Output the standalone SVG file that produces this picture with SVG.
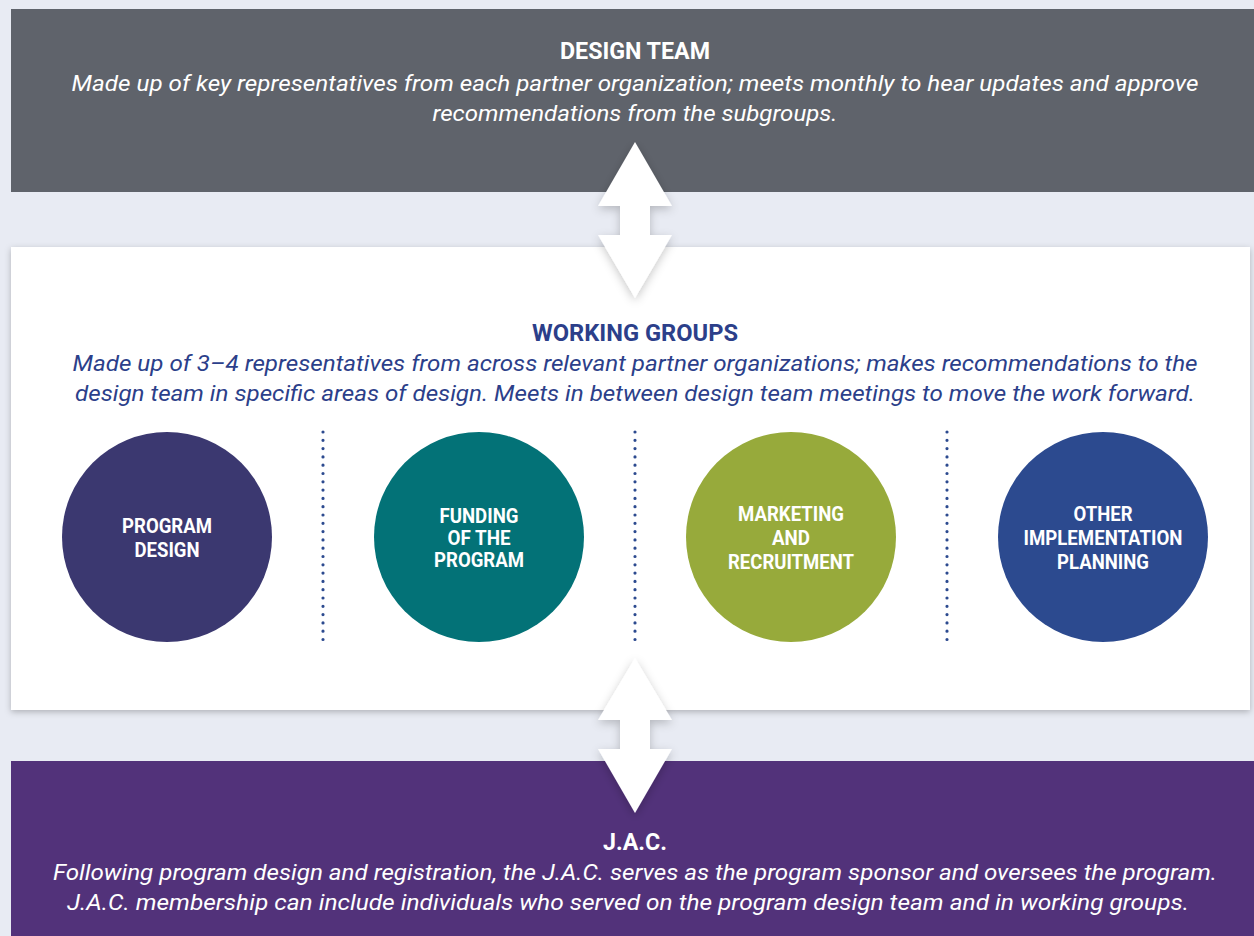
<svg xmlns="http://www.w3.org/2000/svg" width="1254" height="936" viewBox="0 0 1254 936">
<defs>
<filter id="sh" x="-10%" y="-10%" width="120%" height="130%">
<feDropShadow dx="0" dy="2" stdDeviation="3" flood-color="#000" flood-opacity="0.25"/>
</filter>
<filter id="ash" x="-40%" y="-20%" width="180%" height="140%">
<feDropShadow dx="0" dy="3" stdDeviation="5" flood-color="#000" flood-opacity="0.22"/>
</filter>
<style>
.ttl{font-family:Roboto,"Liberation Sans",sans-serif;font-weight:bold;font-size:24px;text-anchor:middle}
.body{font-family:Roboto,"Liberation Sans",sans-serif;font-style:italic;font-size:22px;text-anchor:middle}
.ctext{font-family:Roboto,"Liberation Sans",sans-serif;font-weight:bold;font-size:20px;fill:#fff;text-anchor:middle}
.dots{stroke:#2c4a8f;stroke-width:3.2;stroke-linecap:round;stroke-dasharray:0 8.3;fill:none}
.arrow{fill:#fff;filter:url(#ash)}
</style>
</defs>
<rect x="0" y="0" width="1254" height="936" fill="#e8ebf3"/>
<g id="design-team">
<rect x="11" y="9" width="1243" height="183" fill="#5f636b"/>
<text class="ttl" x="635" y="59" fill="#fff" textLength="150" lengthAdjust="spacingAndGlyphs">DESIGN TEAM</text>
<text class="body" x="635" y="91" fill="#fff" textLength="1127" lengthAdjust="spacingAndGlyphs">Made up of key representatives from each partner organization; meets monthly to hear updates and approve</text>
<text class="body" x="635" y="121" fill="#fff" textLength="405" lengthAdjust="spacingAndGlyphs">recommendations from the subgroups.</text>
</g>
<g id="working-groups">
<rect x="11" y="247" width="1239" height="463" fill="#fff" filter="url(#sh)"/>
<text class="ttl" x="635" y="341" fill="#2c3f8a" textLength="206" lengthAdjust="spacingAndGlyphs">WORKING GROUPS</text>
<text class="body" x="635" y="371" fill="#2c3f8a" textLength="1125" lengthAdjust="spacingAndGlyphs">Made up of 3–4 representatives from across relevant partner organizations; makes recommendations to the</text>
<text class="body" x="635" y="401" fill="#2c3f8a" textLength="1120" lengthAdjust="spacingAndGlyphs">design team in specific areas of design. Meets in between design team meetings to move the work forward.</text>
</g>
<g id="program-design">
<circle cx="167" cy="537" r="105" fill="#3b3870"/>
<text class="ctext" x="167" y="533" textLength="90" lengthAdjust="spacingAndGlyphs">PROGRAM</text>
<text class="ctext" x="167" y="557" textLength="65" lengthAdjust="spacingAndGlyphs">DESIGN</text>
</g>
<g id="funding">
<circle cx="479" cy="537" r="105" fill="#037277"/>
<text class="ctext" x="479" y="523" textLength="79" lengthAdjust="spacingAndGlyphs">FUNDING</text>
<text class="ctext" x="479" y="545" textLength="63" lengthAdjust="spacingAndGlyphs">OF THE</text>
<text class="ctext" x="479" y="567" textLength="90" lengthAdjust="spacingAndGlyphs">PROGRAM</text>
</g>
<g id="marketing">
<circle cx="791" cy="537" r="105" fill="#97aa3b"/>
<text class="ctext" x="791" y="521" textLength="106" lengthAdjust="spacingAndGlyphs">MARKETING</text>
<text class="ctext" x="791" y="545" textLength="38" lengthAdjust="spacingAndGlyphs">AND</text>
<text class="ctext" x="791" y="569" textLength="126" lengthAdjust="spacingAndGlyphs">RECRUITMENT</text>
</g>
<g id="other">
<circle cx="1103" cy="537" r="105" fill="#2c4a8f"/>
<text class="ctext" x="1103" y="521" textLength="59" lengthAdjust="spacingAndGlyphs">OTHER</text>
<text class="ctext" x="1103" y="545" textLength="159" lengthAdjust="spacingAndGlyphs">IMPLEMENTATION</text>
<text class="ctext" x="1103" y="569" textLength="92" lengthAdjust="spacingAndGlyphs">PLANNING</text>
</g>
<g id="dividers">
<line class="dots" x1="323" y1="432" x2="323" y2="641"/>
<line class="dots" x1="635" y1="432" x2="635" y2="641"/>
<line class="dots" x1="947" y1="432" x2="947" y2="641"/>
</g>
<g id="jac">
<rect x="11" y="761" width="1243" height="175" fill="#52327a"/>
<text class="ttl" x="635" y="850" fill="#fff" textLength="64" lengthAdjust="spacingAndGlyphs">J.A.C.</text>
<text class="body" x="635" y="880" fill="#fff" textLength="1164" lengthAdjust="spacingAndGlyphs">Following program design and registration, the J.A.C. serves as the program sponsor and oversees the program.</text>
<text class="body" x="628" y="910" fill="#fff" textLength="1122" lengthAdjust="spacingAndGlyphs">J.A.C. membership can include individuals who served on the program design team and in working groups.</text>
</g>
<g id="connectors">
<path class="arrow" d="M635,142 L672,206 L650,206 L650,235 L672,235 L635,298 L598,235 L620,235 L620,206 L598,206 Z"/>
<path class="arrow" d="M635,658 L672,720 L650,720 L650,749 L672,749 L635,813 L598,749 L620,749 L620,720 L598,720 Z"/>
</g>
</svg>
